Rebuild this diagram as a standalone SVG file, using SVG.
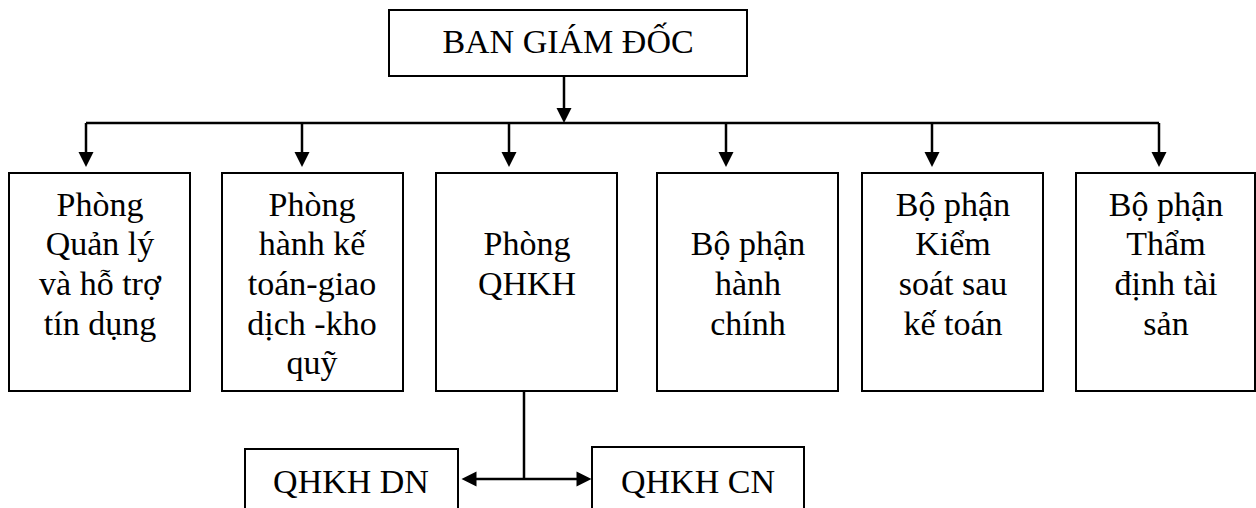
<svg xmlns="http://www.w3.org/2000/svg" width="1256" height="508" viewBox="0 0 1256 508" font-family="Liberation Serif">
<style>
  .box { fill: #ffffff; stroke: #000000; stroke-width: 2; }
  .t { fill: #000000; text-anchor: middle; }
  .ln { stroke: #000000; stroke-width: 2.5; fill: none; }
  .ah { fill: #000000; stroke: none; }
</style>
<rect width="1256" height="508" fill="#ffffff"/>

<g id="connectors">
  <line class="ln" x1="564" y1="76" x2="564" y2="110"/>
  <polygon class="ah" points="556.5,108 571.5,108 564,123"/>
  <line class="ln" x1="86" y1="123" x2="1159" y2="123"/>
  <line class="ln" x1="86" y1="123" x2="86" y2="154"/>
  <polygon class="ah" points="78.5,152 93.5,152 86,167"/>
  <line class="ln" x1="302" y1="123" x2="302" y2="154"/>
  <polygon class="ah" points="294.5,152 309.5,152 302,167"/>
  <line class="ln" x1="509" y1="123" x2="509" y2="154"/>
  <polygon class="ah" points="501.5,152 516.5,152 509,167"/>
  <line class="ln" x1="726" y1="123" x2="726" y2="154"/>
  <polygon class="ah" points="718.5,152 733.5,152 726,167"/>
  <line class="ln" x1="932" y1="123" x2="932" y2="154"/>
  <polygon class="ah" points="924.5,152 939.5,152 932,167"/>
  <line class="ln" x1="1159" y1="123" x2="1159" y2="154"/>
  <polygon class="ah" points="1151.5,152 1166.5,152 1159,167"/>
  <line class="ln" x1="524" y1="391" x2="524" y2="479"/>
  <line class="ln" x1="474" y1="479" x2="579" y2="479"/>
  <polygon class="ah" points="476.5,471.5 476.5,486.5 461.5,479"/>
  <polygon class="ah" points="576.5,471.5 576.5,486.5 591.5,479"/>
</g>

<g id="ban-giam-doc">
  <rect class="box" x="389" y="10" width="358" height="66"/>
  <text class="t" x="568" y="53" style="font-family:'Liberation Serif',serif;font-size:34px">BAN GIÁM ĐỐC</text>
</g>

<g id="phong-quan-ly">
  <rect class="box" x="9" y="173" width="181" height="218"/>
  <text class="t" x="100" y="216" style="font-family:'Liberation Serif',serif;font-size:34px">Phòng</text>
  <text class="t" x="100" y="255" style="font-family:'Liberation Serif',serif;font-size:34px">Quản lý</text>
  <text class="t" x="100" y="295" style="font-family:'Liberation Serif',serif;font-size:34px">và hỗ trợ</text>
  <text class="t" x="100" y="335" style="font-family:'Liberation Serif',serif;font-size:34px">tín dụng</text>
</g>

<g id="phong-ke-toan">
  <rect class="box" x="222" y="173" width="181" height="218"/>
  <text class="t" x="312" y="216" style="font-family:'Liberation Serif',serif;font-size:34px">Phòng</text>
  <text class="t" x="312" y="255" style="font-family:'Liberation Serif',serif;font-size:34px">hành kế</text>
  <text class="t" x="312" y="295" style="font-family:'Liberation Serif',serif;font-size:34px">toán-giao</text>
  <text class="t" x="312" y="335" style="font-family:'Liberation Serif',serif;font-size:34px">dịch -kho</text>
  <text class="t" x="312" y="374" style="font-family:'Liberation Serif',serif;font-size:34px">quỹ</text>
</g>

<g id="phong-qhkh">
  <rect class="box" x="436" y="173" width="181" height="218"/>
  <text class="t" x="527" y="255" style="font-family:'Liberation Serif',serif;font-size:34px">Phòng</text>
  <text class="t" x="527" y="295" style="font-family:'Liberation Serif',serif;font-size:34px">QHKH</text>
</g>

<g id="bo-phan-hanh-chinh">
  <rect class="box" x="657" y="173" width="181" height="218"/>
  <text class="t" x="748" y="255" style="font-family:'Liberation Serif',serif;font-size:34px">Bộ phận</text>
  <text class="t" x="748" y="295" style="font-family:'Liberation Serif',serif;font-size:34px">hành</text>
  <text class="t" x="748" y="335" style="font-family:'Liberation Serif',serif;font-size:34px">chính</text>
</g>

<g id="bo-phan-kiem-soat">
  <rect class="box" x="862" y="173" width="181" height="218"/>
  <text class="t" x="953" y="216" style="font-family:'Liberation Serif',serif;font-size:34px">Bộ phận</text>
  <text class="t" x="953" y="255" style="font-family:'Liberation Serif',serif;font-size:34px">Kiểm</text>
  <text class="t" x="953" y="295" style="font-family:'Liberation Serif',serif;font-size:34px">soát sau</text>
  <text class="t" x="953" y="335" style="font-family:'Liberation Serif',serif;font-size:34px">kế toán</text>
</g>

<g id="bo-phan-tham-dinh">
  <rect class="box" x="1076" y="173" width="179" height="218"/>
  <text class="t" x="1166" y="216" style="font-family:'Liberation Serif',serif;font-size:34px">Bộ phận</text>
  <text class="t" x="1166" y="255" style="font-family:'Liberation Serif',serif;font-size:34px">Thẩm</text>
  <text class="t" x="1166" y="295" style="font-family:'Liberation Serif',serif;font-size:34px">định tài</text>
  <text class="t" x="1166" y="335" style="font-family:'Liberation Serif',serif;font-size:34px">sản</text>
</g>

<g id="qhkh-dn">
  <rect class="box" x="245" y="449" width="213" height="70"/>
  <text class="t" x="351" y="493" style="font-family:'Liberation Serif',serif;font-size:34px">QHKH DN</text>
</g>

<g id="qhkh-cn">
  <rect class="box" x="592" y="447" width="212" height="72"/>
  <text class="t" x="698" y="493" style="font-family:'Liberation Serif',serif;font-size:34px">QHKH CN</text>
</g>
</svg>
